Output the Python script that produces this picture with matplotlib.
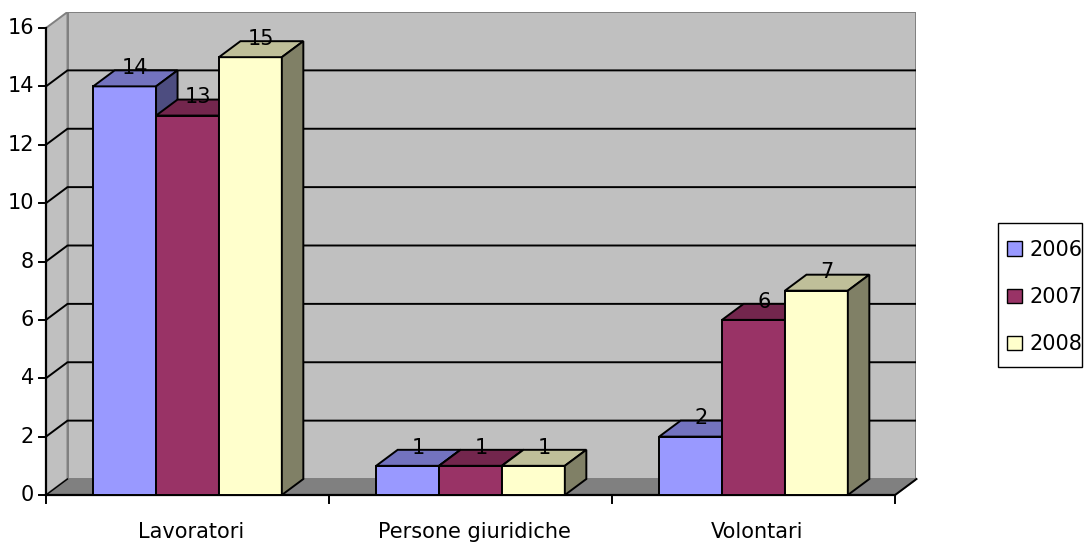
import matplotlib
matplotlib.use("Agg")
import matplotlib.pyplot as plt
from matplotlib.patches import Polygon, Rectangle, Patch

# === Data ===
categories = ["Lavoratori", "Persone giuridiche", "Volontari"]
years = ["2006", "2007", "2008"]
v2006 = [14, 1, 2]
v2007 = [13, 1, 6]
v2008 = [15, 1, 7]
yticks = [0, 2, 4, 6, 8, 10, 12, 14, 16]

front_colors = ["#9999FF", "#993366", "#FFFFCC"]
top_colors = ["#7373BF", "#73264D", "#BFBF99"]
side_colors = ["#4D4D80", "#4D1A33", "#808066"]

series = [v2006, v2007, v2008]

# === Layout (pixels) ===
W, H = 1085, 542
x0px, x1px = 46, 895      # front plane, left/right
y0px, y1px = 495, 28      # front plane, value 0 / value 16
depth_x, depth_y = 21.5, 16

n = len(categories)
ymax = yticks[-1]
ux = (x1px - x0px) / n
uy = (y0px - y1px) / ymax
dx = depth_x / ux
dy = depth_y / uy

fig = plt.figure(figsize=(W / 100, H / 100), dpi=100)
ax = fig.add_axes([x0px / W, 1 - y0px / H,
                   (x1px + depth_x - x0px) / W, (y0px - y1px + depth_y) / H])
ax.set_xlim(0, n + dx)
ax.set_ylim(0, ymax + dy)
ax.axis("off")

FS = 15
lw = 1.4

# === Walls and floor ===
ax.add_patch(Polygon([(dx, dy), (n + dx, dy), (n + dx, ymax + dy), (dx, ymax + dy)],
                     closed=True, fc="#C0C0C0", ec="#808080", lw=lw, zorder=0))
ax.add_patch(Polygon([(0, 0), (dx, dy), (dx, ymax + dy), (0, ymax)],
                     closed=True, fc="#C0C0C0", ec="#808080", lw=lw, zorder=0))
ax.add_patch(Polygon([(0, 0), (n, 0), (n + dx, dy), (dx, dy)],
                     closed=True, fc="#808080", ec="#808080", lw=lw, zorder=0))

# gridlines on back wall + side wall
for v in yticks[1:-1]:
    ax.plot([0, dx, n + dx], [v, v + dy, v + dy], color="k", lw=lw, zorder=1)
ax.plot([0, dx], [0, dy], color="k", lw=1, zorder=1)
ax.plot([n, n + dx], [0, dy], color="k", lw=lw, zorder=1, clip_on=False)

# axes
ax.plot([0, 0], [0, ymax], color="k", lw=1.6, zorder=2, clip_on=False)
ax.plot([0, n], [0, 0], color="k", lw=1.6, zorder=2, clip_on=False)
for v in yticks:
    ax.plot([-7 / ux, 0], [v, v], color="k", lw=1.4, clip_on=False)
    ax.text(-12 / ux, v, str(v), ha="right", va="center", fontsize=FS)
for i in range(n + 1):
    ax.plot([i, i], [0, -8 / uy], color="k", lw=1.4, clip_on=False)
for i, cat in enumerate(categories):
    ax.text(i + 0.5 + 4 / ux, -37 / uy, cat, ha="center", va="center", fontsize=FS)

# === 3D bars ===
bw = 1 / (len(years) + 1.5)
for j, vals in enumerate(series):
    for i, v in enumerate(vals):
        x = i + (1 - len(years) * bw) / 2 + j * bw
        z = 3 + j
        ax.add_patch(Rectangle((x, 0), bw, v, fc=front_colors[j], ec="k", lw=lw, zorder=z))
        ax.add_patch(Polygon([(x, v), (x + bw, v), (x + bw + dx, v + dy), (x + dx, v + dy)],
                             closed=True, fc=top_colors[j], ec="k", lw=lw, zorder=z))
        ax.add_patch(Polygon([(x + bw, 0), (x + bw + dx, dy), (x + bw + dx, v + dy), (x + bw, v)],
                             closed=True, fc=side_colors[j], ec="k", lw=lw, zorder=z))
        ax.text(x + bw / 2 + dx / 2, v + 0.42, str(v), ha="center", va="baseline",
                fontsize=FS, zorder=10)

# === Legend ===
handles = [Patch(fc=c, ec="k", lw=1) for c in front_colors]
leg = fig.legend(handles, years, loc="upper left", bbox_to_anchor=(1007 / W, 1 - 240 / H),
                 frameon=False, fontsize=FS,
                 handlelength=0.7, handleheight=0.7, handletextpad=0.4,
                 labelspacing=1.3, borderpad=0, borderaxespad=0)
fig.patches.append(Rectangle((998 / W, 1 - 367 / H), 84 / W, 144 / H,
                             transform=fig.transFigure, fill=False, ec="k", lw=1))

fig.savefig("out.png", dpi=100)
